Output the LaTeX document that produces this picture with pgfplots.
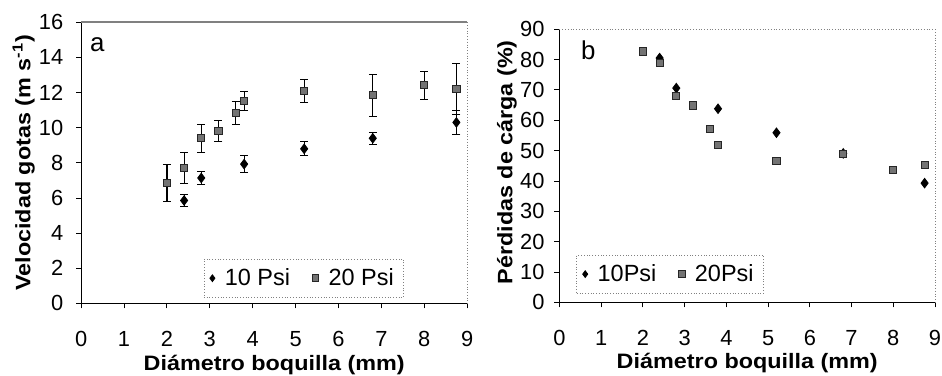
\documentclass[border=0pt]{standalone}
\usepackage{pgfplots}
\pgfplotsset{compat=1.18}
\usepackage{pgfplotstable}
\usepackage{fontspec}
\setmainfont{Liberation Sans}
\newfontfamily\labfont[FakeStretch=1.12]{Liberation Sans}
\pgfplotstableread{
x y ey
2.4 5.86 0.33
2.8 7.14 0.35
3.8 7.93 0.50
5.2 8.80 0.40
6.8 9.40 0.35
8.75 10.30 0.70
}\vela
\pgfplotstableread{
x y ey
2.0 6.86 1.05
2.4 7.70 0.87
2.8 9.40 0.78
3.2 9.82 0.60
3.6 10.82 0.65
3.8 11.53 0.55
5.2 12.08 0.65
6.8 11.85 1.20
8.0 12.42 0.80
8.75 12.23 1.45
}\velb
\pgfplotstableread{
x y
2.4 80.5
2.8 70.6
3.8 63.8
5.2 55.9
6.8 49.1
8.75 39.3
}\pera
\pgfplotstableread{
x y
2.0 82.7
2.4 78.9
2.8 67.9
3.2 64.9
3.6 57.3
3.8 51.8
5.2 46.7
6.8 48.9
8.0 43.6
8.75 45.3
}\perb
\pgfplotsset{
  common/.style={
    scale only axis,
    anchor=south west,
    axis lines*=left,
    xmin=0, xmax=9, ymin=0,
    xtick={0,...,9},
    tick align=outside,
    major tick length=2.5pt,
    tick style={black, line width=0.5pt},
    axis line style={black, line width=0.6pt},
    /pgf/number format/assume math mode=true,
    ticklabel style={font=\fontsize{11}{13}\selectfont},
    xticklabel style={inner ysep=1pt, yshift=-10.3pt},
    clip=false,
    legend columns=2,
    legend cell align=left,
    legend image code/.code={\draw[##1, mark size=1.7pt] plot coordinates {(0.12cm,0cm)};},
    legend style={draw=gray, densely dotted, fill=none, anchor=south west,
      font=\fontsize{11.8}{13}\selectfont, inner xsep=3pt, inner ysep=2.5pt,
      /tikz/every odd column/.append style={column sep=3pt},
      /tikz/every even column/.append style={column sep=9pt}},
  },
  s10/.style={only marks, mark=diamond*, mark size=2.4pt, black,
    mark options={solid, fill=black, draw=black}},
  s20/.style={only marks, mark=square*, mark size=1.8pt, black!85,
    mark options={solid, fill=black!55, draw=black!85}},
}
\tikzset{lab/.style={font=\labfont\fontsize{10.5}{12}\selectfont\bfseries, anchor=center, inner sep=0pt}}
\begin{document}
\begin{tikzpicture}
% Panel a
\begin{axis}[common,
  at={(40.85pt,36.5pt)}, width=194.2pt, height=141.5pt,
  ymax=16, ytick={0,2,...,16},
  yticklabel style={xshift=-3pt},
  legend style={at={(axis description cs:0.317,0.021)}},
]
\draw[gray, line width=0.8pt] (rel axis cs:0,1) -- (rel axis cs:1,1);
\draw[gray, densely dotted] (rel axis cs:1,1) -- (rel axis cs:1,0);
\addplot+[s10, error bars/.cd, y dir=both, y explicit,
  error bar style={black, line width=0.6pt}, error mark options={black, rotate=90, mark size=2pt}]
  table[x=x, y=y, y error=ey]{\vela};
\addlegendentry{10 Psi}
\addplot+[s20, error bars/.cd, y dir=both, y explicit,
  error bar style={black, line width=0.6pt}, error mark options={black, rotate=90, mark size=2pt}]
  table[x=x, y=y, y error=ey]{\velb};
\addlegendentry{20 Psi}
\node[font=\fontsize{13}{15}\selectfont] at (axis description cs:0.042,0.922) {a};
\node[lab] at (axis description cs:0.5,-0.218) {Diámetro boquilla (mm)};
\node[lab, rotate=90] at (axis description cs:-0.149,0.5) {Velocidad gotas (m s\textsuperscript{-1})};
\end{axis}
% Panel b
\begin{axis}[common,
  at={(281.5pt,37pt)}, width=189pt, height=137.5pt,
  ymax=90, ytick={0,10,...,90},
  yticklabel style={xshift=-1.5pt},
  legend style={at={(axis description cs:0.045,0.033)}},
]
\draw[gray, densely dotted] (rel axis cs:0,1) -- (rel axis cs:1,1) -- (rel axis cs:1,0);
\addplot+[s10] table[x=x, y=y]{\pera};
\addlegendentry{10Psi}
\addplot+[s20] table[x=x, y=y]{\perb};
\addlegendentry{20Psi}
\node[font=\fontsize{13}{15}\selectfont] at (axis description cs:0.077,0.924) {b};
\node[lab] at (axis description cs:0.5,-0.223) {Diámetro boquilla (mm)};
\node[lab, rotate=90] at (axis description cs:-0.14,0.513) {Pérdidas de cárga (\%)};
\end{axis}
\pgfresetboundingbox
\path (0,0) rectangle (474pt,189.2pt);
\end{tikzpicture}
\end{document}
